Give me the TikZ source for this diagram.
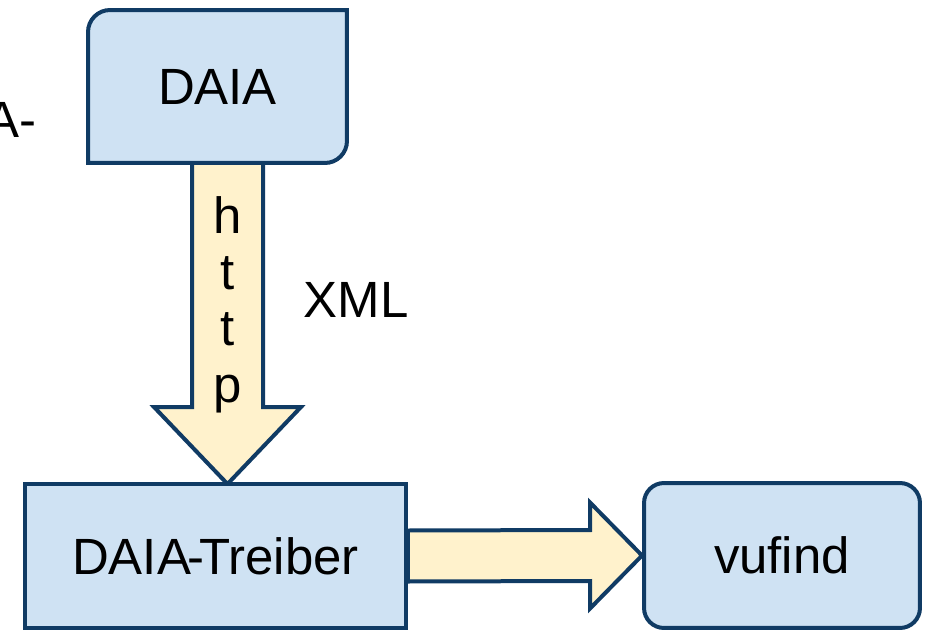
\documentclass[tikz,border=0pt]{standalone}
\usepackage{fontspec}
\setmainfont{Liberation Sans}
\usetikzlibrary{calc,backgrounds}
\definecolor{edgeblue}{RGB}{16,59,100}
\definecolor{boxblue}{RGB}{207,226,243}
\definecolor{arrowyellow}{RGB}{255,242,204}
\tikzset{
  txt/.style={font=\fontsize{29}{32}\selectfont, inner sep=0pt},
  box/.style={txt, draw=edgeblue, fill=boxblue, line width=0.08cm},
  boxline/.style={draw=edgeblue, fill=boxblue, line width=0.08cm},
  fat/.style={draw=edgeblue, fill=arrowyellow, line join=miter, line width=0.08cm}
}
\begin{document}
\begin{tikzpicture}[x=0.02cm, y=-0.02cm, line width=0.08cm]
\useasboundingbox (0,0) rectangle (927,632);
\node[txt, minimum width=5.1cm, minimum height=2.98cm] (daia) at (217.5,86.5) {DAIA};
\node[box, minimum width=7.62cm, minimum height=2.88cm] (treiber) at (215.5,556) {DAIA\kern-2pt-\kern-3pt Treiber};
\node[box, rounded corners=0.4cm, minimum width=5.52cm, minimum height=2.9cm] (vufind) at (782,555.5) {vufind};
\node[txt, anchor=base east] (cut) at (38.5,137) {A-};
\node[txt] (xml) at (356,300) {XML};
\node[txt, align=center, anchor=base] (http) at (227.5,402) {h\\t\\t\\p};
\coordinate (httptip) at (227.5,484);
\coordinate (httptop) at (httptip |- daia.south);
\begin{scope}[on background layer]
\draw[fat] ($(httptop)+(-35.5,0)$) -- ($(httptip)+(-35.5,-77)$) -- ($(httptip)+(-73.5,-77)$)
  -- (httptip) -- ($(httptip)+(73.5,-77)$) -- ($(httptip)+(35.5,-77)$) -- ($(httptop)+(35.5,0)$) -- cycle;
\draw[fat] ($(treiber.east)+(0,-25.5)$) -- ($(vufind.west)+(-52,-25.5)$) -- ($(vufind.west)+(-52,-53)$)
  -- (vufind.west) -- ($(vufind.west)+(-52,53)$) -- ($(vufind.west)+(-52,25.5)$) -- ($(treiber.east)+(0,25.5)$) -- cycle;
\draw[boxline] (daia.south west) [rounded corners=0.44cm] -- (daia.north west) [sharp corners]
  -- (daia.north east) [rounded corners=0.44cm] -- (daia.south east) [sharp corners] -- cycle;
\end{scope}
\end{tikzpicture}
\end{document}
